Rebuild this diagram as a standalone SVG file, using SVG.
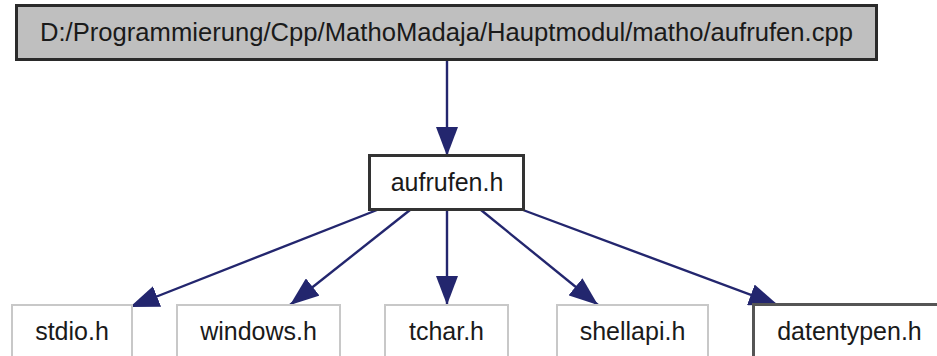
<svg xmlns="http://www.w3.org/2000/svg" width="937" height="356" viewBox="0 0 937 356">
<defs>
<style>
.lbl{font-family:"Liberation Sans",Arial,sans-serif;font-size:25px;fill:#1a1a1a;text-anchor:middle}
.root{fill:#bfbfbf;stroke:#2a2a2a;stroke-width:3}
.main{fill:#ffffff;stroke:#333333;stroke-width:3}
.ext{fill:#ffffff;stroke:#c8c8c8;stroke-width:2}
.doc{fill:#ffffff;stroke:#555555;stroke-width:3}
.edge{stroke:#23266e;stroke-width:2.4;fill:none}
</style>
<marker id="ah" viewBox="0 0 29 22" refX="29" refY="11" markerWidth="29" markerHeight="22" markerUnits="userSpaceOnUse" orient="auto">
<path d="M0,0 L29,11 L0,22 z" fill="#23266e"/>
</marker>
</defs>
<rect width="937" height="356" fill="#ffffff"/>
<g id="connectors">
<path class="edge" d="M447,60 L447,156" marker-end="url(#ah)"/>
<path class="edge" d="M377,210 L130,307" marker-end="url(#ah)"/>
<path class="edge" d="M410,210 L290,305" marker-end="url(#ah)"/>
<path class="edge" d="M447,210 L447,305" marker-end="url(#ah)"/>
<path class="edge" d="M481,210 L598,305" marker-end="url(#ah)"/>
<path class="edge" d="M523,210 L778,305" marker-end="url(#ah)"/>
</g>
<g id="node-root">
<rect class="root" x="16.5" y="5.5" width="860" height="54"/>
<text class="lbl" x="446.5" y="41" textLength="813" lengthAdjust="spacingAndGlyphs">D:/Programmierung/Cpp/MathoMadaja/Hauptmodul/matho/aufrufen.cpp</text>
</g>
<g id="node-aufrufen">
<rect class="main" x="369.5" y="155.5" width="154" height="54"/>
<text class="lbl" x="447" y="191">aufrufen.h</text>
</g>
<g id="node-stdio">
<rect class="ext" x="12" y="305" width="120" height="60"/>
<text class="lbl" x="72" y="340">stdio.h</text>
</g>
<g id="node-windows">
<rect class="ext" x="177" y="305" width="163" height="60"/>
<text class="lbl" x="258.5" y="340">windows.h</text>
</g>
<g id="node-tchar">
<rect class="ext" x="385" y="305" width="123" height="60"/>
<text class="lbl" x="446.5" y="340">tchar.h</text>
</g>
<g id="node-shellapi">
<rect class="ext" x="557" y="305" width="151" height="60"/>
<text class="lbl" x="632.5" y="340">shellapi.h</text>
</g>
<g id="node-datentypen">
<rect class="doc" x="753.5" y="304.5" width="192" height="60"/>
<text class="lbl" x="849.5" y="340">datentypen.h</text>
</g>
</svg>
